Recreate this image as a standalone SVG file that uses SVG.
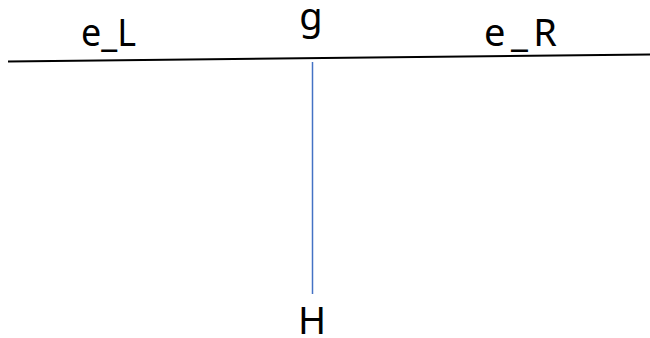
<svg xmlns="http://www.w3.org/2000/svg" width="650" height="338" viewBox="0 0 650 338">
<style>
.lbl{font-family:"Noto Sans","Open Sans","Liberation Sans",sans-serif;font-size:38px;fill:#000}
</style>
<rect width="650" height="338" fill="#fff"/>
<g id="connectors">
<line x1="8" y1="61.5" x2="650" y2="54.5" stroke="#000" stroke-width="2"/>
<line x1="312.5" y1="62" x2="312.5" y2="294" stroke="#4472C4" stroke-width="1.5"/>
</g>
<g id="eL"><text class="lbl" x="81" y="46" textLength="55" lengthAdjust="spacingAndGlyphs">e_L</text></g>
<g id="g"><text class="lbl" x="311" y="30" text-anchor="middle">g</text></g>
<g id="eR"><text class="lbl" x="484" y="46" textLength="73" lengthAdjust="spacing">e_R</text></g>
<g id="H"><text class="lbl" x="312" y="334" text-anchor="middle">H</text></g>
</svg>
